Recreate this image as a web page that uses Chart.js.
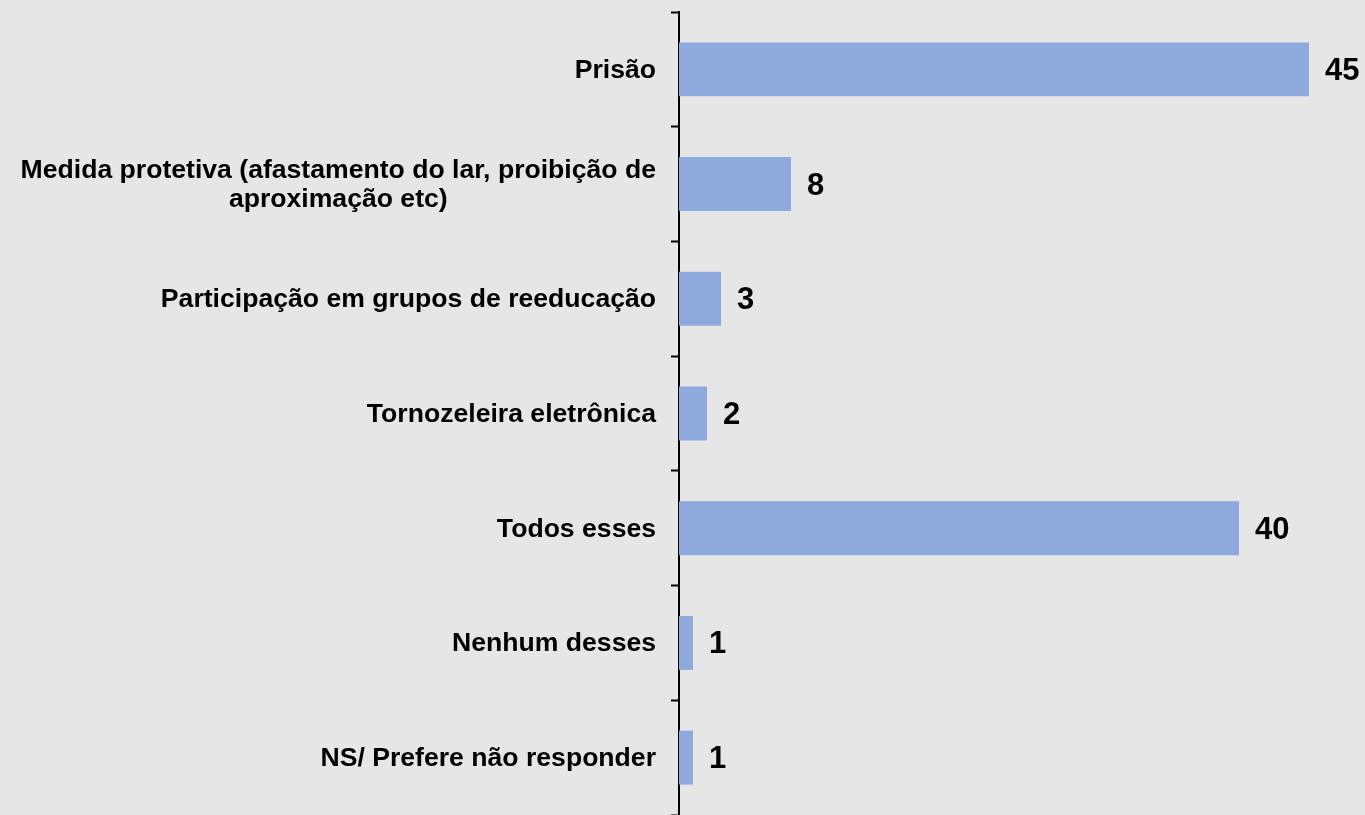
<!DOCTYPE html>
<html lang="pt-BR">
<head>
    <meta charset="UTF-8">
    <title>Gráfico de barras</title>
    <style>
        body {
            margin: 0;
            background-color: #e6e6e6;
        }
        #wrap {
            width: 1365px;
            height: 815px;
            position: relative;
        }
    </style>
</head>
<body>
    <div id="wrap"><canvas id="chart"></canvas></div>
    <script src="https://cdn.jsdelivr.net/npm/chart.js"></script>
    <script>
        const categorias = [
            ['Prisão'],
            ['Medida protetiva (afastamento do lar, proibição de', 'aproximação etc)'],
            ['Participação em grupos de reeducação'],
            ['Tornozeleira eletrônica'],
            ['Todos esses'],
            ['Nenhum desses'],
            ['NS/ Prefere não responder']
        ];
        const valores = [45, 8, 3, 2, 40, 1, 1];

        const fonte = '"Liberation Sans", Arial, sans-serif';

        // rótulos do eixo: bloco alinhado à direita, linhas centralizadas (como no Excel)
        const rotulosEixo = {
            id: 'rotulosEixo',
            afterDraw(chart) {
                const ctx = chart.ctx;
                const y = chart.scales.y;
                const xDir = chart.chartArea.left - 8 - 15;
                ctx.save();
                ctx.font = 'bold 26.6px ' + fonte;
                ctx.fillStyle = '#000';
                ctx.textAlign = 'center';
                ctx.textBaseline = 'middle';
                categorias.forEach((linhas, i) => {
                    const w = Math.max(...linhas.map(l => ctx.measureText(l).width));
                    const cy = y.getPixelForValue(i);
                    const lh = 29;
                    linhas.forEach((l, j) => {
                        ctx.fillText(l, xDir - w / 2, cy + 1 + (j - (linhas.length - 1) / 2) * lh);
                    });
                });
                ctx.restore();
            }
        };

        // valores ao lado das barras
        const rotulosValores = {
            id: 'rotulosValores',
            afterDatasetsDraw(chart) {
                const ctx = chart.ctx;
                const meta = chart.getDatasetMeta(0);
                ctx.save();
                ctx.font = 'bold 31px ' + fonte;
                ctx.fillStyle = '#000';
                ctx.textAlign = 'left';
                ctx.textBaseline = 'middle';
                meta.data.forEach((bar, i) => {
                    ctx.fillText(String(valores[i]), bar.x + 16, bar.y + 2);
                });
                ctx.restore();
            }
        };

        const ctx = document.getElementById('chart').getContext('2d');
        const chart = new Chart(ctx, {
            type: 'bar',
            data: {
                labels: categorias.map(c => c.join(' ')),
                datasets: [{
                    data: valores,
                    backgroundColor: '#8eaadc',
                    borderWidth: 0,
                    categoryPercentage: 1,
                    barPercentage: 0.47
                }]
            },
            options: {
                indexAxis: 'y',
                responsive: true,
                maintainAspectRatio: false,
                animation: false,
                layout: {
                    padding: { top: 12, bottom: 0, left: 0, right: 0 }
                },
                plugins: {
                    legend: { display: false },
                    tooltip: { enabled: false }
                },
                scales: {
                    x: {
                        display: false,
                        min: 0,
                        max: 49
                    },
                    y: {
                        afterFit(scale) {
                            scale.width = 679;
                        },
                        border: {
                            display: true,
                            color: '#000',
                            width: 2
                        },
                        grid: {
                            display: true,
                            offset: true,
                            drawOnChartArea: false,
                            drawTicks: true,
                            tickLength: 8,
                            tickWidth: 2,
                            tickColor: '#000'
                        },
                        ticks: {
                            display: false
                        }
                    }
                }
            },
            plugins: [rotulosEixo, rotulosValores]
        });
    </script>
</body>
</html>
